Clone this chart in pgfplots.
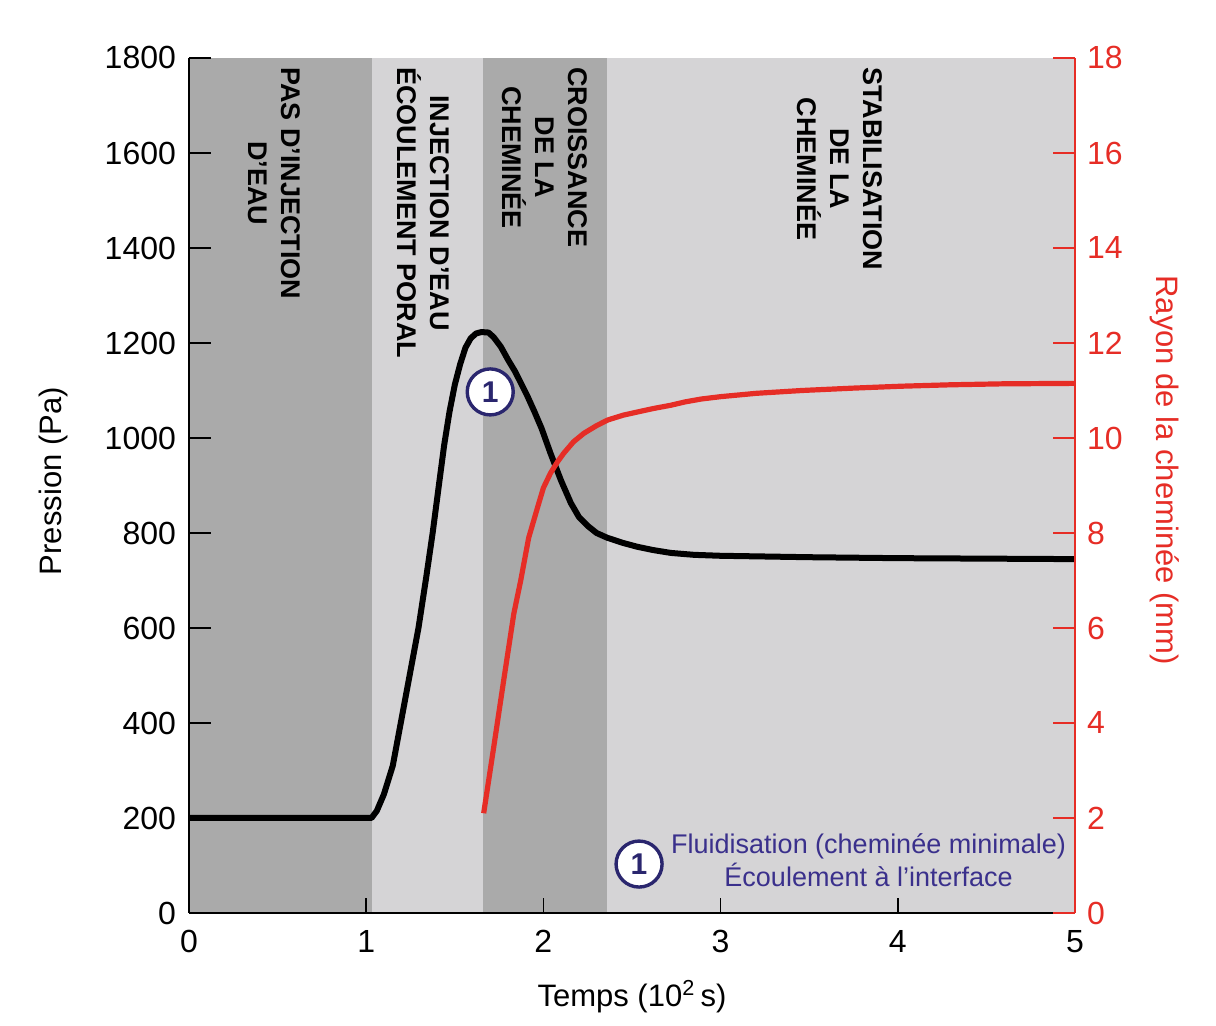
\documentclass[border=0pt]{standalone}
\usepackage{fontspec}
\setmainfont{Liberation Sans}
\usepackage{pgfplots}
\pgfplotsset{compat=1.18}
\definecolor{dgray}{RGB}{170,170,170}
\definecolor{lgray}{RGB}{213,212,214}
\definecolor{cred}{RGB}{230,45,38}
\definecolor{navy}{RGB}{42,38,110}
\definecolor{ntext}{RGB}{58,48,140}
\begin{document}
\begin{tikzpicture}
\path[use as bounding box] (-94.5pt,-56.5pt) rectangle (513.5pt,456.5pt);
\begin{axis}[
  at={(0,0)}, anchor=south west,
  scale only axis, width=443pt, height=427.5pt,
  xmin=0, xmax=5, ymin=0, ymax=1800,
  axis x line*=bottom, axis y line*=left,
  axis on top,
  tick align=inside,
  xtick={0,1,2,3,4,5}, ytick={0,200,...,1800},
  xtick style={black, line width=0.8pt, /pgfplots/major tick length=7.5pt},
  ytick style={black, line width=0.8pt, /pgfplots/major tick length=11pt},
  x axis line style={black, line width=1.4pt},
  y axis line style={black, line width=1pt},
  ticklabel style={font=\fontsize{16}{16}\selectfont},
  xticklabel style={yshift=-5pt},
  yticklabel style={xshift=-3pt},
  /pgf/number format/assume math mode=true,
  /pgf/number format/1000 sep={},
  xlabel={Temps (10\textsuperscript{2}\,s)},
  xlabel style={font=\fontsize{15.5}{15.5}\selectfont, at={(axis description cs:0.5,-0.098)}, anchor=center},
  ylabel={Pression (Pa)},
  ylabel style={font=\fontsize{15.5}{15.5}\selectfont, at={(axis description cs:-0.1524,0.505)}, anchor=center},
]
\addplot[fill=dgray, draw=none] coordinates {(0,0) (1.03,0) (1.03,1800) (0,1800)} -- cycle;
\addplot[fill=lgray, draw=none] coordinates {(1.03,0) (1.657,0) (1.657,1800) (1.03,1800)} -- cycle;
\addplot[fill=dgray, draw=none] coordinates {(1.657,0) (2.36,0) (2.36,1800) (1.657,1800)} -- cycle;
\addplot[fill=lgray, draw=none] coordinates {(2.36,0) (5,0) (5,1800) (2.36,1800)} -- cycle;

\addplot[black, line width=3pt, line join=round, line cap=round] coordinates {
(0,200) (1.03,200) (1.06,215) (1.10,250) (1.15,310) (1.19,390) (1.24,490)
(1.295,600) (1.34,710) (1.375,800) (1.41,900) (1.44,985) (1.47,1055) (1.50,1112)
(1.53,1155) (1.56,1190) (1.59,1210) (1.62,1220) (1.65,1223) (1.69,1222) (1.72,1212)
(1.76,1192) (1.80,1165) (1.84,1140) (1.87,1118) (1.91,1088) (1.95,1055) (1.99,1020) (2.04,968) (2.10,910)
(2.155,863) (2.20,834) (2.25,815) (2.30,800) (2.36,790) (2.45,779) (2.53,771) (2.62,764) (2.72,758)
(2.85,754) (3.0,752) (3.5,749) (4.0,747) (4.5,746) (5.0,745)};

\node[font=\bfseries\fontsize{13.5}{16.5}\selectfont, rotate=-90, anchor=west, align=center, inner sep=0pt] at (axis cs:0.48,1781) {PAS D’INJECTION\\D’EAU};
\node[font=\bfseries\fontsize{13.5}{16.5}\selectfont, rotate=-90, anchor=west, align=center, inner sep=0pt] at (axis cs:1.32,1781) {INJECTION D’EAU\\ÉCOULEMENT PORAL};
\node[font=\bfseries\fontsize{13.5}{16.5}\selectfont, rotate=-90, anchor=west, align=center, inner sep=0pt] at (axis cs:2.01,1781) {CROISSANCE\\DE LA\\CHEMINÉE};
\node[font=\bfseries\fontsize{13.5}{16.5}\selectfont, rotate=-90, anchor=west, align=center, inner sep=0pt] at (axis cs:3.67,1781) {STABILISATION\\DE LA\\CHEMINÉE};

\node[circle, draw=navy, line width=1.7pt, fill=white, minimum size=23pt, inner sep=0pt, text=navy, font=\bfseries\fontsize{15}{15}\selectfont] at (axis cs:1.70,1097) {1};
\node[circle, draw=navy, line width=1.7pt, fill=white, minimum size=23pt, inner sep=0pt, text=navy, font=\bfseries\fontsize{15}{15}\selectfont] at (axis cs:2.54,103) {1};
\node[text=ntext, align=center, font=\fontsize{13.5}{16.5}\selectfont] at (axis cs:3.835,112) {Fluidisation (cheminée minimale)\\Écoulement à l’interface};
\end{axis}

\begin{axis}[
  at={(0,0)}, anchor=south west,
  scale only axis, width=443pt, height=427.5pt,
  xmin=0, xmax=5, ymin=0, ymax=18,
  axis x line=none, axis y line*=right,
  tick align=inside,
  ytick={0,2,...,18},
  ytick style={cred, line width=0.8pt, /pgfplots/major tick length=11pt},
  y axis line style={cred, line width=1pt},
  yticklabel style={text=cred, font=\fontsize{16}{16}\selectfont, xshift=2.5pt},
  /pgf/number format/assume math mode=true,
  ylabel={Rayon de la cheminée (mm)},
  ylabel style={text=cred, font=\fontsize{15.5}{15.5}\selectfont, at={(axis description cs:1.1016,0.518)}, anchor=center, rotate=-180},
]
\addplot[cred, line width=2.6pt, line join=round] coordinates {
(1.663,2.1) (1.72,3.5) (1.776,4.9) (1.833,6.3) (1.872,7.0) (1.917,7.9)
(1.968,8.55) (2.00,8.95) (2.04,9.26) (2.08,9.5) (2.115,9.68) (2.17,9.92) (2.229,10.1) (2.30,10.26) (2.364,10.38)
(2.45,10.48) (2.534,10.55) (2.62,10.62) (2.72,10.69) (2.80,10.76) (2.89,10.82) (3.0,10.87) (3.2,10.94) (3.46,11.0)
(3.75,11.05) (4.02,11.09) (4.3,11.12) (4.59,11.14) (5.0,11.15)};
\end{axis}
\end{tikzpicture}
\end{document}
